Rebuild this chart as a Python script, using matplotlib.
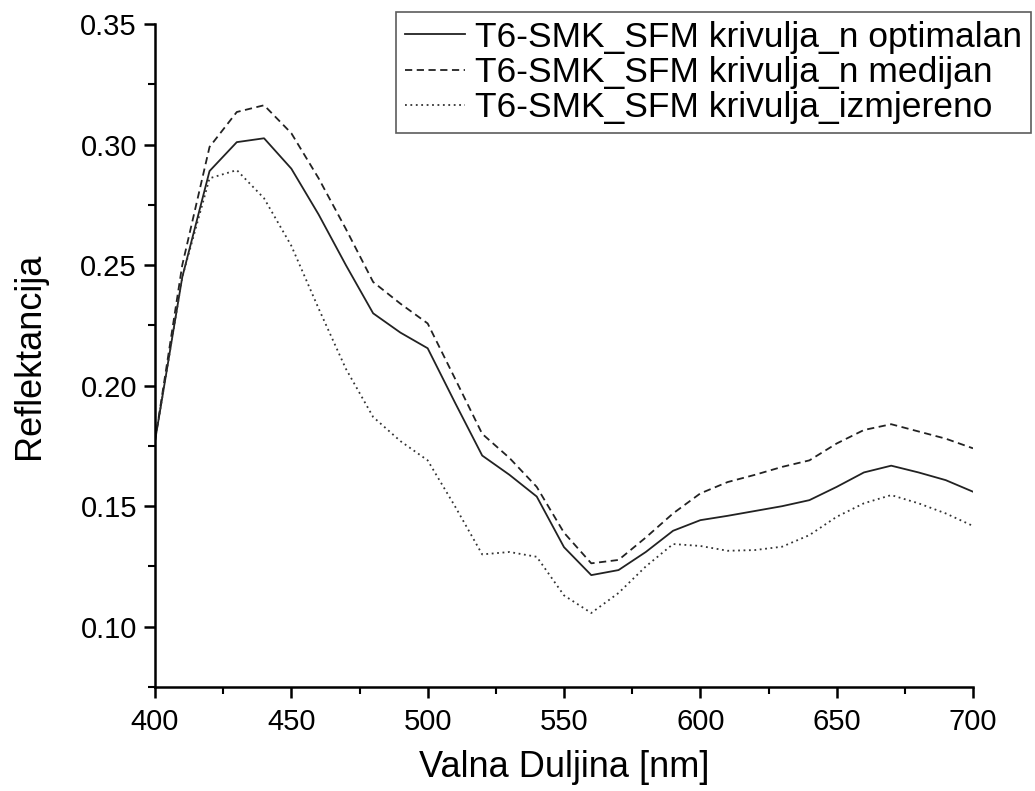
import matplotlib
matplotlib.use("Agg")
import matplotlib.pyplot as plt
from matplotlib.ticker import MultipleLocator, FormatStrFormatter

plt.rcParams["font.family"] = ["Liberation Sans", "DejaVu Sans"]

wavelength = list(range(400, 701, 10))
optimalan = [0.177, 0.245, 0.289, 0.301, 0.3026, 0.290, 0.271, 0.250, 0.230, 0.222,
             0.2155, 0.193, 0.171, 0.163, 0.154, 0.133, 0.1214, 0.1235, 0.131, 0.1398,
             0.1442, 0.146, 0.148, 0.150, 0.1525, 0.158, 0.164, 0.1668, 0.164, 0.1608, 0.156]
medijan = [0.177, 0.250, 0.299, 0.3135, 0.3163, 0.3047, 0.286, 0.265, 0.243, 0.234,
           0.2258, 0.203, 0.180, 0.170, 0.158, 0.139, 0.1263, 0.1277, 0.137, 0.147,
           0.1553, 0.160, 0.163, 0.1663, 0.169, 0.176, 0.1816, 0.184, 0.181, 0.178, 0.174]
izmjereno = [0.177, 0.245, 0.286, 0.2894, 0.2777, 0.258, 0.232, 0.207, 0.187, 0.177,
             0.169, 0.150, 0.130, 0.131, 0.129, 0.113, 0.1057, 0.114, 0.125, 0.1343,
             0.1335, 0.1315, 0.1318, 0.1332, 0.138, 0.1456, 0.1512, 0.1546, 0.1512, 0.147, 0.1418]
labels = ["T6-SMK_SFM krivulja_n optimalan",
          "T6-SMK_SFM krivulja_n medijan",
          "T6-SMK_SFM krivulja_izmjereno"]

fig = plt.figure(figsize=(10.35, 7.91), dpi=100)
ax = fig.add_axes([155 / 1035, 104 / 791, 818 / 1035, 663 / 791])

ax.plot(wavelength, optimalan, "-", color="#222222", lw=1.3, label=labels[0])
ax.plot(wavelength, medijan, color="#222222", lw=1.3, ls=(0, (4, 2.5)), label=labels[1])
ax.plot(wavelength, izmjereno, color="#333333", lw=1.3, ls=(0, (1, 2)), label=labels[2])

ax.set_xlim(400, 700)
ax.set_ylim(0.075, 0.35)
ax.xaxis.set_major_locator(MultipleLocator(50))
ax.xaxis.set_minor_locator(MultipleLocator(25))
ax.yaxis.set_major_locator(MultipleLocator(0.05))
ax.yaxis.set_minor_locator(MultipleLocator(0.025))
ax.yaxis.set_major_formatter(FormatStrFormatter("%.2f"))

for s in ["top", "right"]:
    ax.spines[s].set_visible(False)
for s in ["left", "bottom"]:
    ax.spines[s].set_linewidth(1.8)
ax.tick_params(which="major", direction="out", length=8, width=1.8, labelsize=21, pad=5)
ax.tick_params(axis="x", which="major", pad=7)
ax.tick_params(which="minor", direction="out", length=5, width=1.5)

ax.set_xlabel("Valna Duljina [nm]", fontsize=26, labelpad=10)
ax.set_ylabel("Reflektancija", fontsize=26, labelpad=24)

leg = ax.legend(loc="upper right", bbox_to_anchor=(1031 / 1035, 1 - 12 / 791),
                bbox_transform=fig.transFigure, fontsize=25.5, frameon=True,
                fancybox=False, edgecolor="#333333", handlelength=1.7,
                handletextpad=0.28, borderpad=0.25, labelspacing=0.06,
                borderaxespad=0)
leg.get_frame().set_linewidth(1.2)

fig.savefig("out.png", dpi=100)
